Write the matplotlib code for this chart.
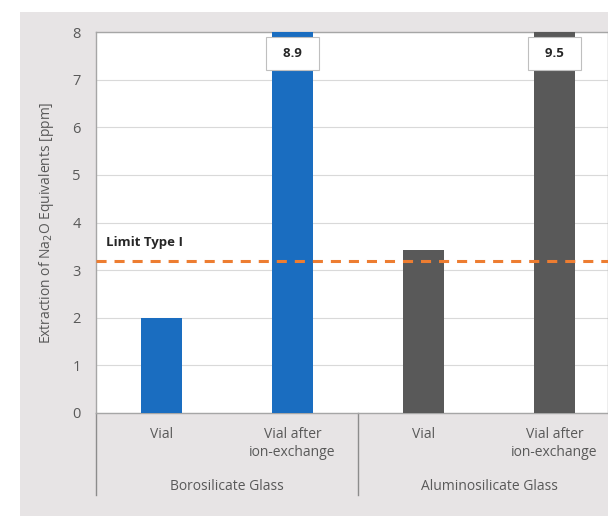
import numpy as np
import matplotlib.pyplot as plt
from matplotlib.patches import Rectangle
import matplotlib.transforms as mtransforms

# datos
categories = ['Vial', 'Vial after\nion-exchange', 'Vial', 'Vial after\nion-exchange']
groups = ['Borosilicate Glass', 'Aluminosilicate Glass']
values = [2.0, 8.9, 3.42, 9.5]
bar_colors = ['#1a6dc0', '#1a6dc0', '#595959', '#595959']
limit_type1 = 3.2
y_ticks = [0, 1, 2, 3, 4, 5, 6, 7, 8]

plt.rcParams['font.family'] = ['Open Sans', 'DejaVu Sans']
text_color = '#595959'

W, H = 608, 516
fig = plt.figure(figsize=(W / 100, H / 100), dpi=100)
fig.patch.set_facecolor('white')

# panel gris del grafico
fig.add_artist(Rectangle((20 / W, 0), 1 - 20 / W, (H - 12) / H,
                         transform=fig.transFigure, facecolor='#e7e4e5',
                         edgecolor='none', zorder=-10))

ax = fig.add_axes([96 / W, (H - 413) / H, (W - 96) / W, (413 - 32) / H])
ax.set_facecolor('white')

x = np.arange(len(categories))
ax.bar(x, values, width=0.31, color=bar_colors, zorder=3)

ax.set_xlim(-0.5, -0.5 + (W - 96) / 131)
ax.set_ylim(0, 8)
ax.set_yticks(y_ticks)
ax.tick_params(axis='y', length=0, pad=11, labelsize=10.5, labelcolor=text_color)
ax.set_xticks([])
ax.grid(axis='y', color='#d9d9d9', lw=0.8, zorder=0)
for s in ax.spines.values():
    s.set_color('#a6a6a6')
    s.set_linewidth(1)

ax.set_ylabel('Extraction of Na$_2$O Equivalents [ppm]', fontsize=10,
              color=text_color, labelpad=12)

# linea limite
ax.axhline(limit_type1, color='#ed7d31', lw=2.2, dashes=(3.3, 2.6), zorder=4)
ax.text(-0.42, limit_type1 + 0.38, 'Limit Type I', fontsize=9.5, fontweight='bold',
        color='#262626', va='center', ha='left', zorder=5)

# etiquetas de barras recortadas
ymax = ax.get_ylim()[1]
for xi, v in zip(x, values):
    if v > ymax:
        ax.text(xi, ymax - 0.45, f'  {v:.1f}  ', ha='center', va='center',
                fontsize=9.5, fontweight='bold', color='#262626', zorder=6,
                bbox=dict(boxstyle='square,pad=0.75', fc='white', ec='#bfbfbf', lw=0.8))

# ejes de categorias agrupadas
trans = mtransforms.blended_transform_factory(ax.transData, ax.transAxes)
for xi, lab in zip(x, categories):
    ax.text(xi, -0.037, lab, transform=trans, ha='center', va='top',
            fontsize=10, color=text_color, linespacing=1.25)
n_per_group = len(categories) // len(groups)
for gi, g in enumerate(groups):
    cx = gi * n_per_group + (n_per_group - 1) / 2
    ax.text(cx, -0.194, g, transform=trans, ha='center', va='center',
            fontsize=10, color=text_color)
for b in [-0.5 + n_per_group * k for k in range(len(groups))]:
    ax.plot([b, b], [0, -0.215], transform=trans, color='#8c8c8c', lw=1, clip_on=False)

fig.savefig('out.png', dpi=100)
